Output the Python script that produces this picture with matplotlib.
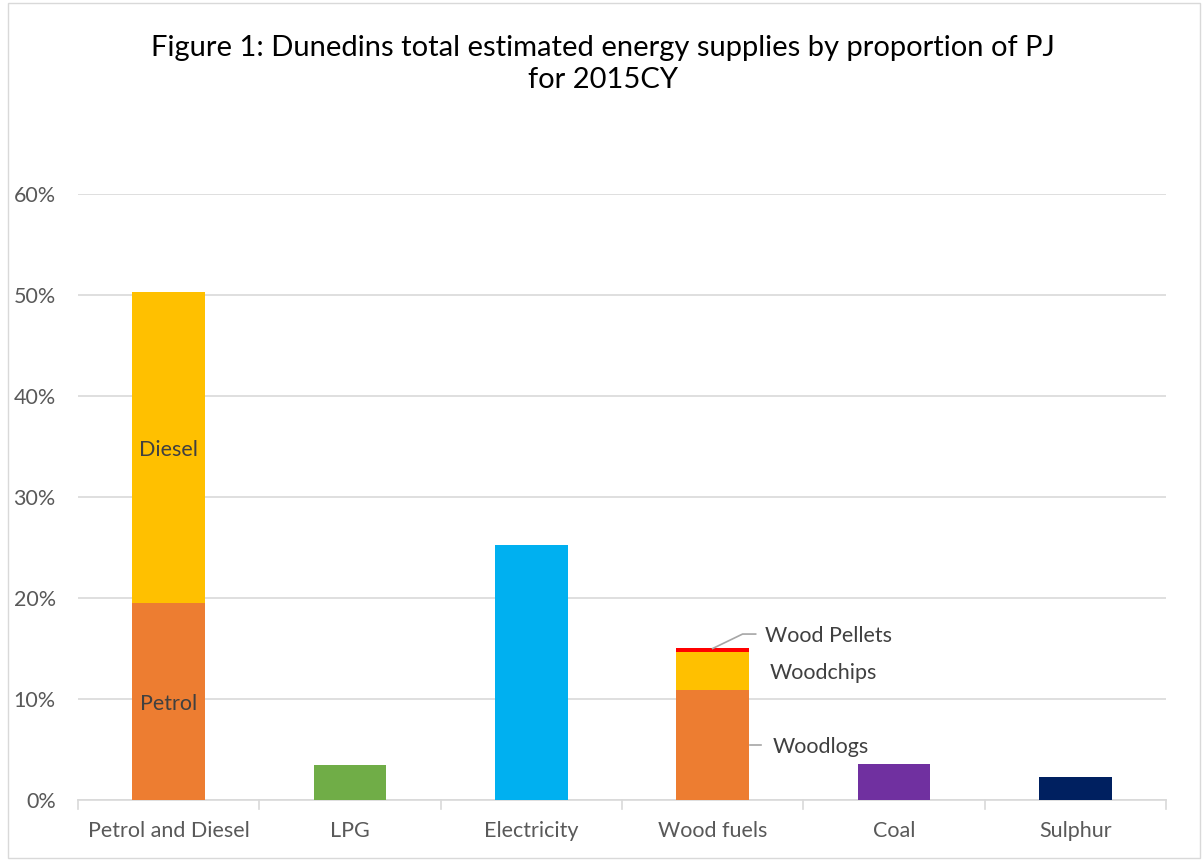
import matplotlib.pyplot as plt
from matplotlib.patches import Rectangle

plt.rcParams['font.family'] = ['Lato', 'DejaVu Sans']

# Data (percent of PJ)
categories = ['Petrol and Diesel', 'LPG', 'Electricity', 'Wood fuels', 'Coal', 'Sulphur']
petrol = 19.5
diesel = 30.8
lpg = 3.5
electricity = 25.2
woodlogs = 10.9
woodchips = 3.75
wood_pellets = 0.4
coal = 3.6
sulphur = 2.3

text_col = '#404040'
grid_col = '#d9d9d9'
fs = 15.5

fig = plt.figure(figsize=(12.04, 8.61), dpi=100)
fig.patches.append(Rectangle((0.007, 0.003), 0.99, 0.994, transform=fig.transFigure,
                             fill=False, edgecolor='#d9d9d9', linewidth=1))
ax = fig.add_axes([78 / 1204, 61 / 861, 1088 / 1204, 606 / 861])

w = 0.4
x = list(range(len(categories)))

# stacked bars
ax.bar(x[0], petrol, w, color='#ed7d31', zorder=3)
ax.bar(x[0], diesel, w, bottom=petrol, color='#ffc000', zorder=3)
ax.bar(x[1], lpg, w, color='#70ad47', zorder=3)
ax.bar(x[2], electricity, w, color='#00b0f0', zorder=3)
ax.bar(x[3], woodlogs, w, color='#ed7d31', zorder=3)
ax.bar(x[3], woodchips, w, bottom=woodlogs, color='#ffc000', zorder=3)
ax.bar(x[3], wood_pellets, w, bottom=woodlogs + woodchips, color='#ff0000', zorder=3)
ax.bar(x[4], coal, w, color='#7030a0', zorder=3)
ax.bar(x[5], sulphur, w, color='#002060', zorder=3)

# segment labels
ax.text(x[0], petrol + diesel / 2 - 0.2, 'Diesel', ha='center', va='center', fontsize=fs, color=text_col, zorder=4)
ax.text(x[0], petrol / 2 - 0.2, 'Petrol', ha='center', va='center', fontsize=fs, color=text_col, zorder=4)

top = woodlogs + woodchips + wood_pellets
ax.plot([x[3], x[3] + 0.165, x[3] + 0.237], [top - 0.05, top + 1.38, top + 1.38],
        color='#a6a6a6', lw=1.2, zorder=4)
ax.text(x[3] + 0.29, top + 1.2, 'Wood Pellets', ha='left', va='center', fontsize=fs, color=text_col)
ax.text(x[3] + 0.313, woodlogs + woodchips / 2 - 0.25, 'Woodchips', ha='left', va='center', fontsize=fs, color=text_col)
ax.plot([x[3] + 0.204, x[3] + 0.265], [woodlogs / 2, woodlogs / 2], color='#a6a6a6', lw=1.2, zorder=4)
ax.text(x[3] + 0.33, woodlogs / 2 - 0.2, 'Woodlogs', ha='left', va='center', fontsize=fs, color=text_col)

ax.set_xlim(-0.5, len(categories) - 0.5)
ax.set_ylim(0, 60)
ax.set_yticks(range(0, 61, 10))
ax.set_yticklabels([f'{v}%' for v in range(0, 61, 10)], fontsize=fs, color='#595959')
ax.set_xticks(x)
ax.set_xticklabels(categories, fontsize=fs, color='#595959')
ax.tick_params(axis='y', length=0, pad=16)
ax.tick_params(axis='x', length=0, pad=15)
for b in [i - 0.5 for i in range(len(categories) + 1)]:
    ax.plot([b, b], [0, -0.9], color=grid_col, lw=1.2, clip_on=False)

ax.grid(axis='y', color=grid_col, lw=1.2, zorder=0)
for s in ['top', 'right', 'left']:
    ax.spines[s].set_visible(False)
ax.spines['bottom'].set_color(grid_col)
ax.spines['bottom'].set_linewidth(1.2)

fig.text(0.501, 0.9257, 'Figure 1: Dunedins total estimated energy supplies by proportion of PJ\nfor 2015CY',
         ha='center', va='center', fontsize=21, color='black', linespacing=1.3)

fig.savefig('out.png', dpi=100)
